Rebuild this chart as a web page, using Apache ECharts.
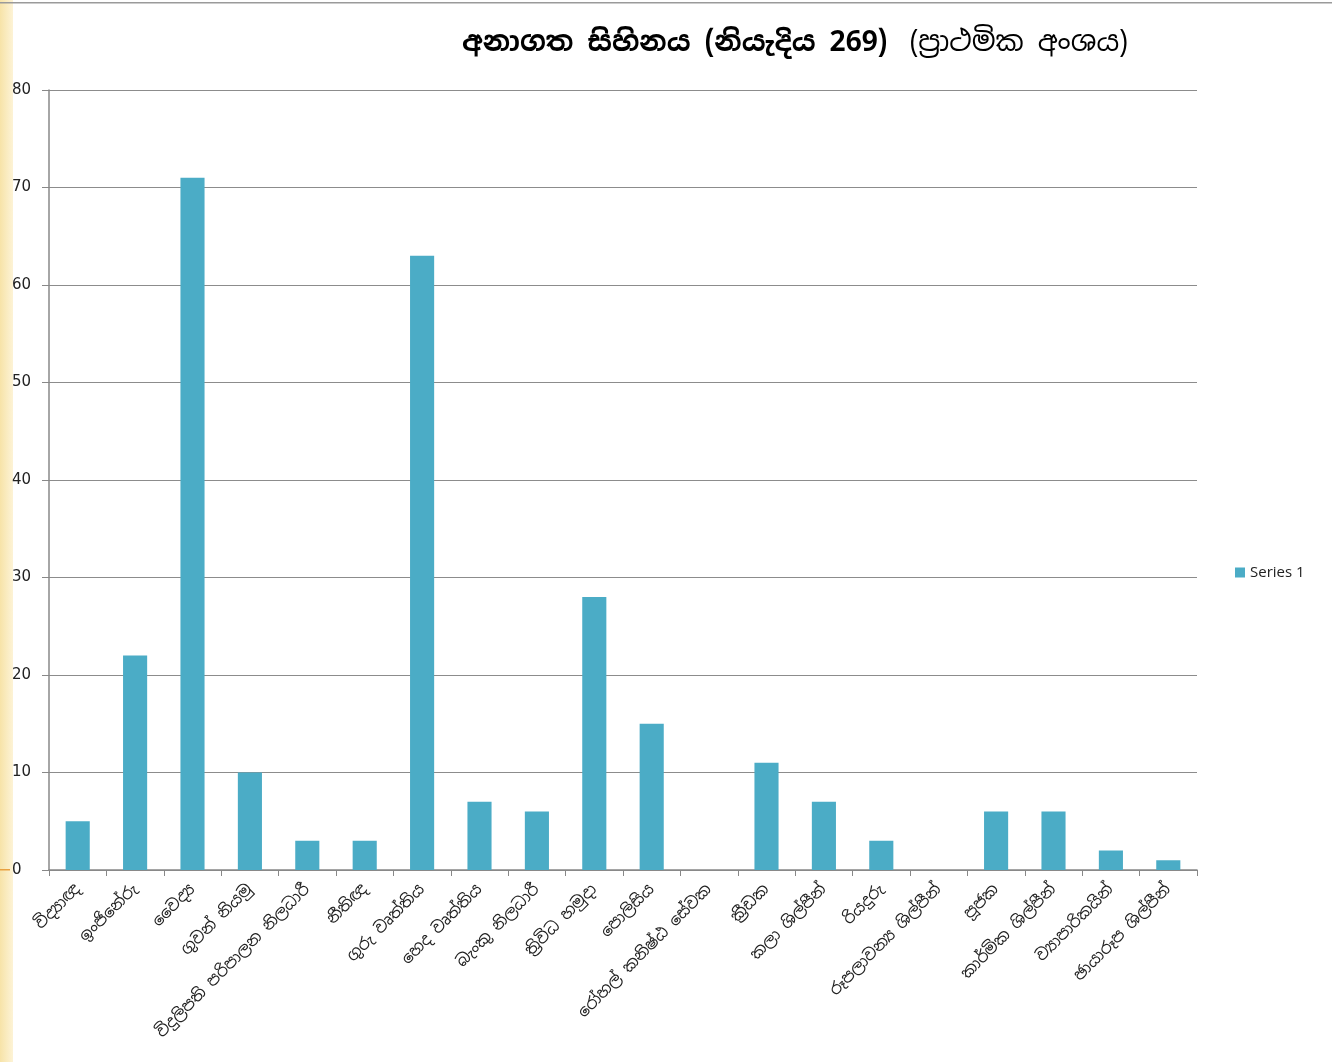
<!DOCTYPE html>
<html><head><meta charset="utf-8">
<script src="https://cdn.jsdelivr.net/npm/echarts@6/dist/echarts.min.js"></script>
<style>html,body{margin:0;padding:0;background:#fff}#c{width:1332px;height:1062px}</style>
</head><body><div id="c"></div>
<script>
const categories = ["විද්‍යාඥ","ඉංජිනේරු","වෛද්‍ය","ගුවන් නියමු","විදුලිපති පරිපාලන නිලධාරී","නීතිඥ","ගුරු වෘත්තිය","හෙද වෘත්තිය","බැංකු නිලධාරී","ත්‍රිවිධ හමුදා","පොලිසිය","රෝහල් කනිෂ්ඨ සේවක","ක්‍රීඩක","කලා ශිල්පීන්","රියදුරු","රූපලාවන්‍ය ශිල්පීන්","පූජක","කාර්මික ශිල්පීන්","ව්‍යාපාරිකයින්","ඡායාරූප ශිල්පීන්"];
const series1 = [5,22,71,10,3,3,63,7,6,28,15,0,11,7,3,0,6,6,2,1];
const yTicks = [0,10,20,30,40,50,60,70,80];
const titleBold = "අනාගත සිහිනය (නියැදිය 269)";
const titleNormal = "(ප්‍රාථමික අංශය)";
const FONT = "'Noto Sans Sinhala','Iskoola Pota','Noto Sans','DejaVu Sans',sans-serif";

const chart = echarts.init(document.getElementById('c'));
chart.setOption({
  animation:false,
  backgroundColor:'#fff',
  graphic:[
    {type:'rect',left:0,top:0,shape:{width:13,height:1062},silent:true,
     style:{fill:{type:'linear',x:0,y:0,x2:1,y2:0,colorStops:[{offset:0,color:'#f7e3a8'},{offset:1,color:'#fdf3d6'}]}}},
    {type:'rect',left:0,top:869,shape:{width:10,height:1.5},silent:true,style:{fill:'#e8a040'}},
    {type:'rect',left:0,top:2,shape:{width:1332,height:1.5},silent:true,style:{fill:'#9a9a9a'}}
  ],
  title:{
    text:'{b|'+titleBold+'}{g|}{n|'+titleNormal+'}',
    left:457, top:24,
    textStyle:{rich:{
      b:{fontSize:28,fontWeight:'bold',color:'#000',fontFamily:FONT},
      g:{width:22},
      n:{fontSize:28,fontWeight:'normal',color:'#000',fontFamily:FONT}
    }}
  },
  legend:{
    data:['Series 1'], orient:'vertical', left:1230, top:560,
    itemWidth:10,itemHeight:10,itemGap:4,icon:'rect',
    textStyle:{fontSize:15,color:'#222',fontFamily:"'Open Sans','DejaVu Sans',sans-serif"}
  },
  grid:{left:49,right:135,top:90,bottom:192,containLabel:false},
  xAxis:{
    type:'category', data:categories,
    axisLine:{lineStyle:{color:'#888',width:1.5}},
    axisTick:{show:true,length:6,lineStyle:{color:'#888'}},
    axisLabel:{rotate:45,interval:0,fontSize:16,color:'#222',fontFamily:FONT,margin:17}
  },
  yAxis:{
    type:'value', min:0, max:80, interval:10,
    axisLine:{show:true,lineStyle:{color:'#888',width:1.5}},
    axisTick:{show:true,length:7,lineStyle:{color:'#888'}},
    axisLabel:{fontSize:15,color:'#222',margin:17,align:'left',padding:[0,0,0,-20],
      fontFamily:"'DejaVu Sans',sans-serif",
      formatter:v=>yTicks.includes(v)?String(v):''},
    splitLine:{lineStyle:{color:'#8c8c8c',width:1.2}}
  },
  series:[{
    name:'Series 1', type:'bar', data:series1,
    barCategoryGap:'58%',
    itemStyle:{color:'#4bacc6'}
  }]
});
</script></body></html>
